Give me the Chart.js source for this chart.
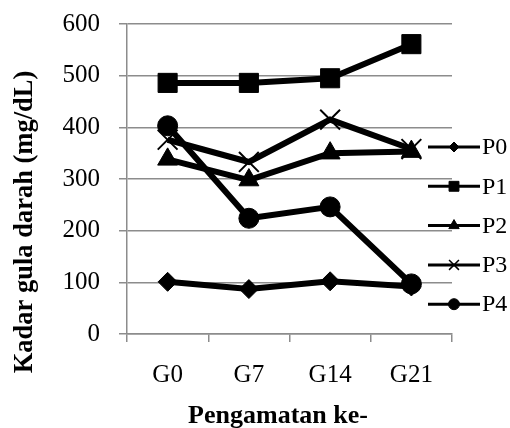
<!DOCTYPE html>
<html>
<head>
<meta charset="utf-8">
<script src="https://cdn.jsdelivr.net/npm/chart.js@4/dist/chart.umd.min.js"></script>
<style>
  html, body { margin: 0; padding: 0; background: #fff; }
  #wrap { width: 510px; height: 428px; }
</style>
</head>
<body>
<div id="wrap"><canvas id="c" width="510" height="428"></canvas></div>
<script>
// Blood glucose per observation day, one series per treatment group
const categories = ['G0', 'G7', 'G14', 'G21'];
const seriesNames = ['P0', 'P1', 'P2', 'P3', 'P4'];
const P0 = [101, 87, 102, 92];
const P1 = [486, 486, 495, 561];
const P2 = [338, 298, 350, 353];
const P3 = [376, 333, 415, 358];
const P4 = [403, 224, 246, 97];
const yTicks = [0, 100, 200, 300, 400, 500, 600];
const xTitle = 'Pengamatan ke-';
const yTitle = 'Kadar gula darah (mg/dL)';

const seriesValues = [P0, P1, P2, P3, P4];
const markerStyles = ['rectRot', 'rect', 'triangle', 'crossRot', 'circle'];
const markerRadius = [9.5, 13.5, 11.5, 14, 10];
const legendRadius = [5, 7, 6, 7, 5.5];

const GRID = '#8c8c8c';
const SERIF = '"Liberation Serif", "Times New Roman", serif';

const datasets = seriesNames.map((name, i) => ({
  label: name,
  data: seriesValues[i],
  order: seriesNames.length - 1 - i,
  borderColor: '#000',
  backgroundColor: '#000',
  borderWidth: 6,
  pointStyle: markerStyles[i],
  pointRadius: markerRadius[i],
  pointBorderWidth: markerStyles[i] === 'crossRot' ? 2 : 1,
  pointBackgroundColor: '#000',
  pointBorderColor: '#000',
  tension: 0,
  fill: false
}));

// Legend at the right edge plus both axis titles
const decorations = {
  id: 'decorations',
  afterDraw(chart) {
    const ctx = chart.ctx;
    const x0 = 428, x1 = 480, top = 147, step = 39.3;
    ctx.save();
    chart.data.datasets.forEach((ds, i) => {
      const y = top + i * step;
      ctx.strokeStyle = '#000';
      ctx.lineWidth = 3;
      ctx.beginPath();
      ctx.moveTo(x0, y);
      ctx.lineTo(x1, y);
      ctx.stroke();
      ctx.fillStyle = '#000';
      const bw = ds.pointStyle === 'crossRot' ? 1.5 : 1;
      ctx.lineWidth = bw;
      Chart.helpers.drawPoint(ctx, {
        pointStyle: ds.pointStyle,
        radius: legendRadius[i],
        rotation: 0,
        borderWidth: bw
      }, (x0 + x1) / 2, y);
      ctx.font = '24px ' + SERIF;
      ctx.textAlign = 'left';
      ctx.textBaseline = 'middle';
      ctx.fillText(ds.label, x1 + 2, y + 1);
    });

    ctx.fillStyle = '#000';
    ctx.font = 'bold 26px ' + SERIF;
    ctx.textAlign = 'center';
    ctx.textBaseline = 'alphabetic';
    ctx.fillText(xTitle, 278, 423);

    ctx.translate(32, 222);
    ctx.rotate(-Math.PI / 2);
    ctx.font = 'bold 26.5px ' + SERIF;
    ctx.fillText(yTitle, 0, 0);
    ctx.restore();
  }
};

new Chart(document.getElementById('c'), {
  type: 'line',
  data: { labels: categories, datasets },
  plugins: [decorations],
  options: {
    responsive: false,
    animation: false,
    devicePixelRatio: 1,
    layout: { padding: { top: 24, right: 58, left: 0, bottom: 0 } },
    plugins: { legend: { display: false }, tooltip: { enabled: false } },
    scales: {
      x: {
        offset: true,
        afterFit(scale) { scale.height = 94; },
        grid: { offset: true, drawOnChartArea: false, drawTicks: true, tickLength: 8, color: GRID, lineWidth: 1.5 },
        border: { display: true, color: GRID, width: 1.5 },
        ticks: { color: '#000', padding: 18, font: { family: SERIF, size: 25 } }
      },
      y: {
        min: 0, max: 600,
        afterFit(scale) { scale.width = 127; },
        afterBuildTicks(scale) { scale.ticks = yTicks.map(v => ({ value: v })); },
        grid: { color: GRID, lineWidth: 1.5, drawTicks: true, tickLength: 8 },
        border: { display: true, color: GRID, width: 1.5 },
        ticks: { color: '#000', padding: 19, font: { family: SERIF, size: 25, lineHeight: 0.2 } }
      }
    }
  }
});
</script>
</body>
</html>
